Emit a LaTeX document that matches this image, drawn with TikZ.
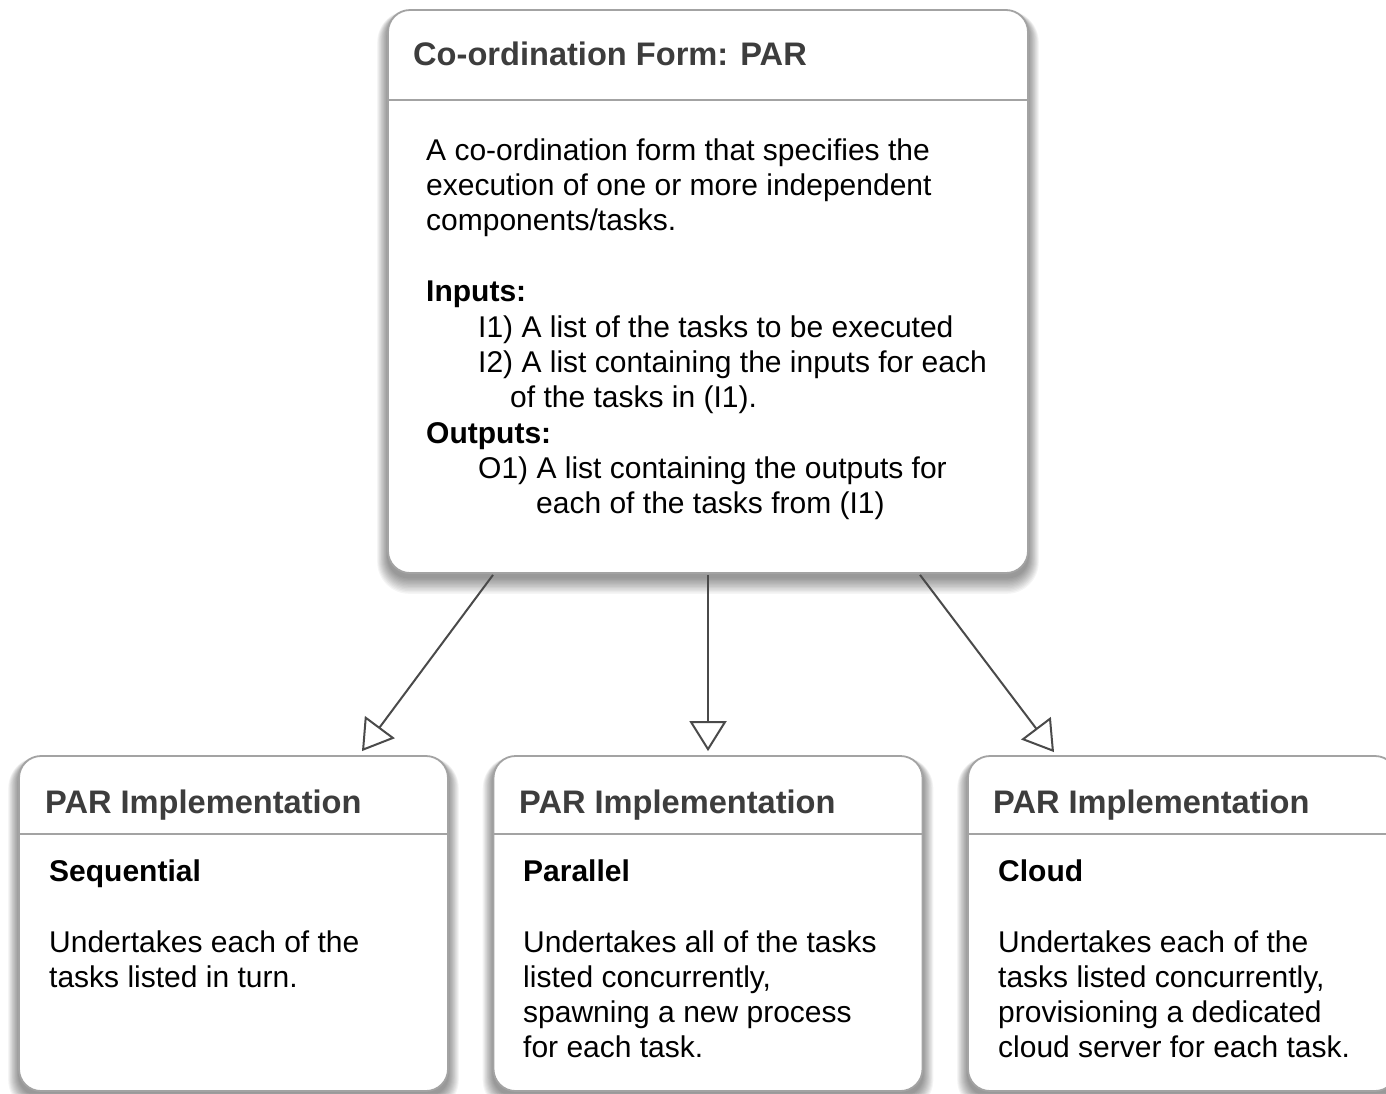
\documentclass[tikz,border=0pt]{standalone}
\usepackage{fontspec}
\setmainfont{Liberation Sans}
\usetikzlibrary{arrows.meta,calc}
\definecolor{hdrgray}{HTML}{3D3D3D}
\definecolor{edgegray}{HTML}{A3A3A3}
\definecolor{linkgray}{HTML}{4A4A4A}
\tikzset{
  card/.style={draw=edgegray, line width=1.8pt, fill=white, rounded corners=22pt,
    rectangle, inner sep=0pt},
  hdr/.style={anchor=base west, inner sep=0pt, text=hdrgray,
    font=\fontsize{32.6}{38}\selectfont\bfseries},
  body/.style={anchor=base west, inner sep=0pt, font=\fontsize{30}{35}\selectfont},
  bodyb/.style={anchor=base west, inner sep=0pt, font=\fontsize{30}{35}\selectfont\bfseries},
  link/.style={draw=linkgray, line width=2pt,
    -{Triangle[open, length=30pt, width=37pt, line width=2pt]}},
}
% soft shadow under a card: left, top, right, bottom
\newcommand\cardshadow[4]{%
  \foreach \i in {1,...,12}{%
    \pgfmathsetmacro\rr{20+\i}%
    \fill[black, opacity=0.04, rounded corners=\rr pt]
      (#1-\i*0.9, #2-\i*0.3+4) rectangle (#3+\i*0.9, #4+\i*1.4+4);
  }%
}
\begin{document}
\begin{tikzpicture}[x=1pt, y=-1pt]
\fill[white] (0,0) rectangle (1386,1093);
\useasboundingbox (0,0) rectangle (1386,1093);

% shadows
\cardshadow{388}{10}{1028}{573}
\cardshadow{19}{756}{448}{1091}
\cardshadow{493.5}{756}{922.5}{1091}
\cardshadow{968}{756}{1397}{1091}

% co-ordination form card
\node[card, minimum width=640pt, minimum height=563pt] (form) at (708,291.5) {};
\draw[edgegray, line width=1.8pt] ($(form.north west)+(0,91)$) -- ($(form.north east)+(0,91)$);

% implementation cards
\node[card, minimum width=429pt, minimum height=335pt] (seq) at (233.5,923.5) {};
\node[card, minimum width=429pt, minimum height=335pt] (par) at (708,923.5) {};
\node[card, minimum width=429pt, minimum height=335pt] (cld) at (1182.5,923.5) {};
\foreach \c in {seq,par,cld}
  \draw[edgegray, line width=1.8pt] ($(\c.north west)+(0,79)$) -- ($(\c.north east)+(0,79)$);

% form text
\node[hdr] (fh) at (413,65) {Co-ordination Form: PAR};
\node[body] (f1) at (426,160) {A co-ordination form that specifies the};
\node[body] (f2) at (426,195) {execution of one or more independent};
\node[body] (f3) at (426,230) {components/tasks.};
\node[bodyb] (fi) at (426,301) {Inputs:};
\node[body] (f4) at (478,337) {I1) A list of the tasks to be executed};
\node[body] (f5) at (478,372) {I2) A list containing the inputs for each};
\node[body] (f6) at (510,407) {of the tasks in (I1).};
\node[bodyb] (fo) at (426,443) {Outputs:};
\node[body] (f7) at (478,478) {O1) A list containing the outputs for};
\node[body] (f8) at (536,513) {each of the tasks from (I1)};

% sequential
\node[hdr] (sh) at (45,813) {PAR Implementation};
\node[bodyb] (st) at (49,881) {Sequential};
\node[body] (s1) at (49,952) {Undertakes each of the};
\node[body] (s2) at (49,987) {tasks listed in turn.};

% parallel
\node[hdr] (ph) at (519,813) {PAR Implementation};
\node[bodyb] (pt) at (523,881) {Parallel};
\node[body] (p1) at (523,952) {Undertakes all of the tasks};
\node[body] (p2) at (523,987) {listed concurrently,};
\node[body] (p3) at (523,1022) {spawning a new process};
\node[body] (p4) at (523,1057) {for each task.};

% cloud
\node[hdr] (ch) at (993,813) {PAR Implementation};
\node[bodyb] (ct) at (998,881) {Cloud};
\node[body] (c1) at (998,952) {Undertakes each of the};
\node[body] (c2) at (998,987) {tasks listed concurrently,};
\node[body] (c3) at (998,1022) {provisioning a dedicated};
\node[body] (c4) at (998,1057) {cloud server for each task.};

% realisation links
\draw[link] ($(form.south)+(-215,1)$) -- ($(seq.north)+(128.5,-4)$);
\draw[link] ($(form.south)+(0,1)$) -- ($(par.north)+(0,-4)$);
\draw[link] ($(form.south)+(212,1)$) -- ($(cld.north)+(-128.5,-3)$);
\end{tikzpicture}
\end{document}
